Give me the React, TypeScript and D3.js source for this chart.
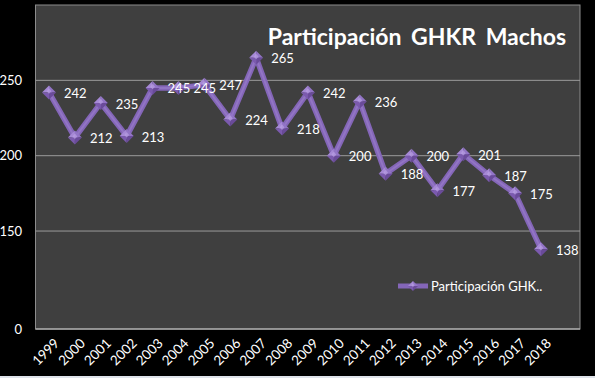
import React from "react";
import * as d3 from "d3";

const years = ["1999","2000","2001","2002","2003","2004","2005","2006","2007","2008","2009","2010","2011","2012","2013","2014","2015","2016","2017","2018"];
const values = [242,212,235,213,245,245,247,224,265,218,242,200,236,188,200,177,201,187,175,138];
// axis positions (value) and their printed labels; the bottom of the axis carries the label "0"
const yTickValues = [85,150,200,250];
const yTickLabels = ["0","150","200","250"];
const title = "Participación GHKR Machos";
const legendLabel = "Participación GHK..";

const W = 595, H = 378;
const plot = { left: 35.5, right: 580, top: 5, bottom: 329 };
const FONT = "Lato, 'Open Sans', sans-serif";

export default function App() {
  const x = d3.scalePoint<string>().domain(years).range([49, 541]);
  const y = d3.scaleLinear().domain([85, 300]).range([plot.bottom, plot.top]);
  const line = d3.line<number>().x((_, i) => x(years[i])!).y(d => y(d));
  const path = line(values) || "";

  const diamond = (cx: number, cy: number, r: number, key: string | number) => (
    <g key={key} transform={`translate(${cx},${cy})`}>
      <path d={`M0,${-r}L${-r},0L0,0Z`} fill="#a689d6" />
      <path d={`M0,${-r}L${r},0L0,0Z`} fill="#9274c6" />
      <path d={`M${-r},0L0,${r}L0,0Z`} fill="#7b5aae" />
      <path d={`M${r},0L0,${r}L0,0Z`} fill="#6a4b9a" />
      <path d={`M${-r * 0.35},${-r * 0.15}L0,${-r * 0.6}L${r * 0.35},${-r * 0.15}L0,${r * 0.2}Z`} fill="#b9a0e2" opacity={0.7} />
    </g>
  );

  return (
    <div style={{ position: "absolute", left: 0, top: 0 }}>
      <svg width={W} height={H} style={{ display: "block" }}>
        <rect x={0} y={0} width={W} height={H} fill="#000" />
        <rect x={0} y={376} width={W} height={2} fill="#dfe3ea" />
        <rect x={plot.left} y={plot.top} width={plot.right - plot.left} height={plot.bottom - plot.top} fill="#3f3f3f" stroke="#8c8c8c" strokeWidth={1} />
        {yTickValues.map((t, i) => (
          <g key={t}>
            <line x1={plot.left} x2={plot.right} y1={y(t)} y2={y(t)} stroke={i === 0 ? "#a6a6a6" : "#9a9a9a"} strokeWidth={i === 0 ? 1.5 : 1} />
            <text x={22} y={y(t)} dy="0.35em" textAnchor="end" fill="#fff" fontFamily={FONT} fontSize={13}>{yTickLabels[i]}</text>
          </g>
        ))}
        {years.map(yr => (
          <text key={yr} transform={`translate(${x(yr)! + 4},${337}) rotate(-45)`} textAnchor="end" dy="0.75em" fill="#fff" fontFamily={FONT} fontSize={13.5}>{yr}</text>
        ))}
        <text x={417} y={45} textAnchor="middle" fill="#fff" fontFamily={FONT} fontWeight="bold" fontSize={23} wordSpacing={4}>{title}</text>
        <path d={path} fill="none" stroke="#8466b8" strokeWidth={5.5} strokeLinejoin="round" />
        <path d={path} fill="none" stroke="#9b7fcc" strokeWidth={2} strokeLinejoin="round" opacity={0.6} />
        {values.map((v, i) => diamond(x(years[i])!, y(v), 7, i))}
        {values.map((v, i) => (
          <text key={"l" + i} x={x(years[i])! + 15} y={y(v) + 1} dy="0.35em" fill="#fff" fontFamily={FONT} fontSize={13}>{v}</text>
        ))}
        <line x1={398} x2={428} y1={286} y2={286} stroke="#8466b8" strokeWidth={5} />
        {diamond(413, 286, 5, "leg")}
        <text x={431} y={286} dy="0.35em" fill="#fff" fontFamily={FONT} fontSize={13}>{legendLabel}</text>
      </svg>
    </div>
  );
}
